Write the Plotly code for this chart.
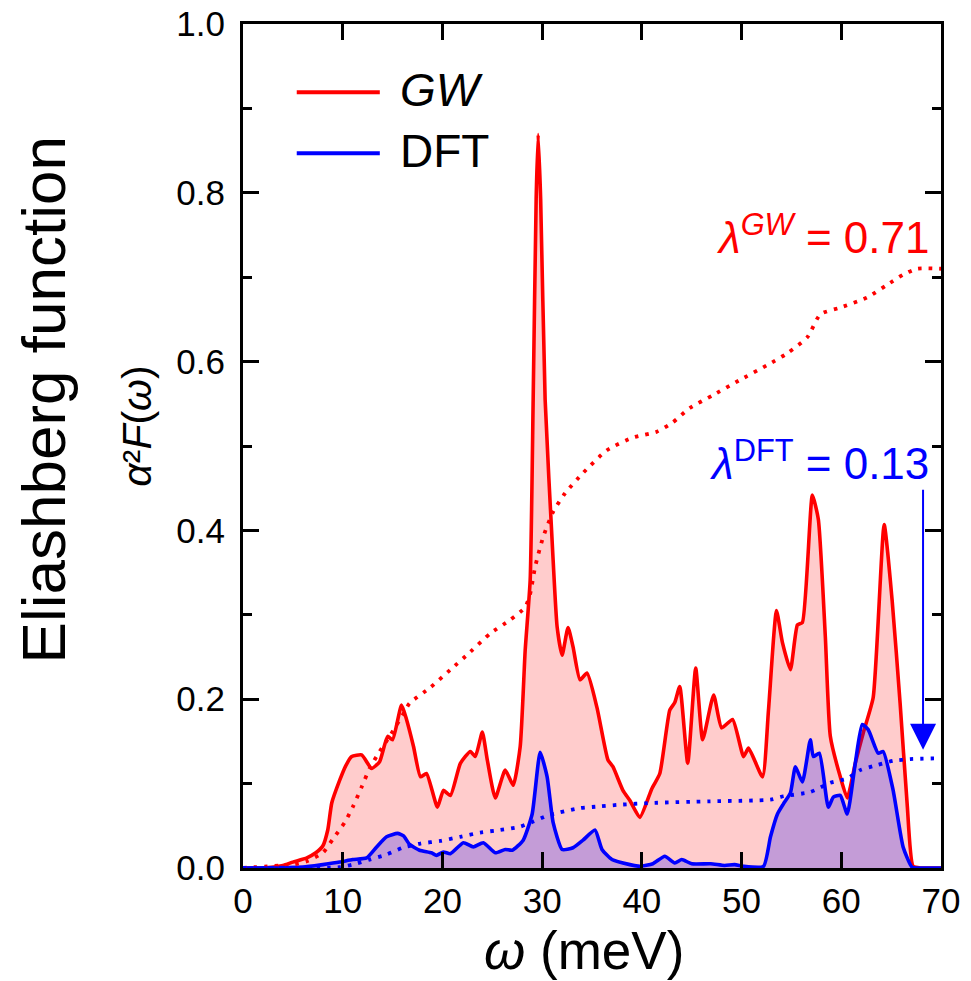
import plotly.graph_objects as go

# Eliashberg spectral function alpha^2 F(omega), GW vs DFT
gw_w = [0, 2, 4, 5, 6.4, 7.3, 8.0, 8.5, 8.9, 9.7, 10.3, 10.9, 11.9, 12.9, 13.7, 14.5, 15.0,
        15.9, 16.4, 17.1, 17.8, 18.4, 19.5, 20.1, 20.8, 21.8, 22.8, 23.3, 24.0, 24.5, 25.3,
        26.3, 27.1, 27.8, 28.3, 28.8, 29.1, 29.4, 29.6, 29.85, 30.3, 31.1, 31.5, 32.0, 32.6,
        33.1, 33.8, 34.5, 35.5, 36.6, 37.1, 38.1, 38.8, 39.8, 41.0, 41.8, 42.8, 43.3, 43.8,
        44.6, 45.4, 46.1, 47.2, 48.0, 49.1, 50.2, 50.7, 52.1, 52.7, 53.5, 54.1, 54.9, 55.6,
        56.1, 57.1, 57.7, 58.4, 58.9, 59.9, 60.6, 61.4, 62.2, 63.2, 64.3, 65.1, 65.9, 66.6,
        67.2, 68, 70]
gw_a2f = [0, 0.0, 0.003, 0.007, 0.012, 0.018, 0.026, 0.045, 0.077, 0.104, 0.121, 0.132, 0.134,
          0.118, 0.126, 0.156, 0.152, 0.193, 0.176, 0.144, 0.108, 0.112, 0.072, 0.092, 0.086,
          0.124, 0.138, 0.132, 0.161, 0.128, 0.083, 0.116, 0.098, 0.144, 0.258, 0.341, 0.555,
          0.793, 0.869, 0.793, 0.555, 0.365, 0.286, 0.252, 0.285, 0.262, 0.223, 0.231, 0.190,
          0.128, 0.120, 0.092, 0.080, 0.060, 0.094, 0.112, 0.187, 0.196, 0.215, 0.124, 0.237,
          0.152, 0.205, 0.166, 0.176, 0.132, 0.142, 0.108, 0.187, 0.305, 0.267, 0.235, 0.288,
          0.291, 0.442, 0.413, 0.274, 0.156, 0.108, 0.083, 0.124, 0.160, 0.202, 0.407, 0.317,
          0.195, 0.077, 0.002, 0, 0]

dft_w = [0, 6, 8.0, 9.7, 11, 12.4, 13.4, 14.4, 15.5, 16.1, 16.7, 17.7, 18.9, 19.4, 20.1, 20.8,
         22.1, 23.1, 24.1, 25.3, 26.3, 27.0, 28.1, 29.0, 29.8, 30.5, 31.1, 32.0, 33.1, 34.1,
         35.3, 36.0, 37.0, 38.8, 39.8, 41.1, 42.3, 43.3, 44.0, 45.0, 46.9, 48.3, 49.3, 50.2,
         52.2, 52.9, 53.6, 54.2, 54.9, 55.4, 56.1, 56.9, 57.2, 57.8, 58.7, 59.2, 59.9, 60.6,
         61.4, 62.1, 62.7, 63.7, 64.2, 65.2, 66.2, 67.1, 68, 70]
dft_a2f = [0, 0.001, 0.004, 0.007, 0.010, 0.012, 0.025, 0.037, 0.041, 0.038, 0.028, 0.021,
           0.018, 0.015, 0.019, 0.017, 0.030, 0.025, 0.030, 0.018, 0.022, 0.021, 0.033, 0.064,
           0.137, 0.108, 0.054, 0.022, 0.024, 0.033, 0.045, 0.022, 0.010, 0.004, 0.002, 0.005,
           0.014, 0.006, 0.010, 0.005, 0.005, 0.003, 0.004, 0.002, 0.002, 0.037, 0.064, 0.076,
           0.089, 0.120, 0.102, 0.152, 0.132, 0.136, 0.072, 0.084, 0.086, 0.064, 0.124, 0.170,
           0.164, 0.136, 0.138, 0.092, 0.025, 0.001, 0, 0]

# cumulative coupling constant lambda(omega)
lam_gw_w = [0, 3.7, 5, 6.4, 8.0, 9.0, 10.2, 11.0, 11.9, 12.7, 13.7, 14.7, 16.0, 16.7, 18.8,
            20.8, 22.8, 24.8, 26.8, 28.3, 28.8, 29.3, 30.1, 31.1, 32.3, 34.1, 36.5, 39.1,
            41.5, 43.1, 44.8, 47.1, 49.8, 52.6, 54.6, 56.6, 57.9, 59.9, 62.6, 64.6, 66.2,
            67.6, 70]
lam_gw = [0, 0.003, 0.004, 0.008, 0.018, 0.034, 0.054, 0.072, 0.096, 0.118, 0.138, 0.156,
          0.181, 0.195, 0.214, 0.235, 0.256, 0.278, 0.294, 0.309, 0.325, 0.357, 0.392, 0.422,
          0.444, 0.468, 0.495, 0.510, 0.517, 0.528, 0.545, 0.560, 0.578, 0.596, 0.610,
          0.629, 0.656, 0.664, 0.676, 0.691, 0.703, 0.71, 0.71]

lam_dft_w = [0, 9.7, 11, 12.7, 14.4, 16.0, 17.8, 19.8, 21.8, 23.8, 25.8, 27.8, 29.1, 30.5,
             31.8, 33.8, 35.8, 37.8, 40.8, 46.8, 52.9, 54.2, 56.9, 58.9, 60.6, 61.9, 63.6,
             65.2, 66.9, 70]
lam_dft = [0, 0.001, 0.004, 0.010, 0.016, 0.024, 0.029, 0.032, 0.037, 0.042, 0.045, 0.049,
           0.055, 0.062, 0.066, 0.071, 0.073, 0.075, 0.077, 0.079, 0.081, 0.085, 0.090,
           0.101, 0.106, 0.116, 0.122, 0.127, 0.129, 0.13]

lam_gw_final = 0.71
lam_dft_final = 0.13

RED = "#ff0000"
BLUE = "#0000ff"
FONT = "Liberation Sans, Arial, Helvetica, sans-serif"

fig = go.Figure()
fig.add_trace(go.Scatter(x=gw_w, y=gw_a2f, mode="lines", fill="tozeroy",
                         fillcolor="rgba(255,0,0,0.2)",
                         line=dict(color=RED, width=3.6, shape="spline", smoothing=0.5),
                         showlegend=False))
fig.add_trace(go.Scatter(x=dft_w, y=dft_a2f, mode="lines", fill="tozeroy",
                         fillcolor="rgba(0,0,255,0.23)",
                         line=dict(color=BLUE, width=3.6, shape="spline", smoothing=0.5),
                         showlegend=False))
fig.add_trace(go.Scatter(x=lam_gw_w, y=lam_gw, mode="lines",
                         line=dict(color=RED, width=3.8, dash="3.5px,7px", shape="spline",
                                   smoothing=0.6),
                         showlegend=False))
fig.add_trace(go.Scatter(x=lam_dft_w, y=lam_dft, mode="lines",
                         line=dict(color=BLUE, width=3.8, dash="3.5px,7px", shape="spline",
                                   smoothing=0.6),
                         showlegend=False))

axis_common = dict(showline=True, linecolor="black", linewidth=3, mirror="allticks",
                   ticks="inside", tickcolor="black", tickwidth=2.5, showgrid=False,
                   zeroline=False, automargin=False,
                   tickfont=dict(family=FONT, size=35, color="black"))

fig.update_xaxes(range=[0, 70], dtick=10, tick0=0, ticklen=16, **axis_common)
fig.update_yaxes(range=[0, 1.0], dtick=0.2, tick0=0, ticklen=16, tickformat=".1f",
                 ticklabelstandoff=8,
                 minor=dict(dtick=0.1, ticks="inside", ticklen=9, tickcolor="black",
                            tickwidth=2.5),
                 **axis_common)

# legend drawn by hand: long line samples beside the labels
legend_items = [("<i>GW</i>", RED, 0.919), ("DFT", BLUE, 0.847)]
for label, color, yy in legend_items:
    fig.add_shape(type="line", xref="paper", yref="paper", x0=0.077, x1=0.196, y0=yy, y1=yy,
                  line=dict(color=color, width=4))
    fig.add_annotation(xref="paper", yref="paper", x=0.222, y=yy + 0.003, text=label,
                       showarrow=False, xanchor="left", yanchor="middle",
                       font=dict(family=FONT, size=46, color="black"))

annotations = [
    dict(text="Eliashberg function", x=-0.2865, y=0.554, textangle=-90,
         font=dict(family=FONT, size=62, color="black")),
    dict(text="<i>α</i>²<i>F</i>(<i>ω</i>)", x=-0.152, y=0.524, textangle=-90,
         font=dict(family=FONT, size=41, color="black")),
    dict(text="<i>ω</i> (meV)", x=0.488, y=-0.098,
         font=dict(family=FONT, size=53, color="black")),
]
for a in annotations:
    fig.add_annotation(xref="paper", yref="paper", showarrow=False,
                       xanchor="center", yanchor="middle", **a)

fig.add_annotation(xref="x", yref="y", x=69.0, y=0.751, xanchor="right", yanchor="middle",
                   showarrow=False,
                   text=f"<i>λ</i><sup><i>GW</i></sup> = {lam_gw_final:.2f}",
                   font=dict(family=FONT, size=44, color=RED))
fig.add_annotation(xref="x", yref="y", x=69.0, y=0.483, xanchor="right", yanchor="middle",
                   showarrow=False,
                   text=f"<i>λ</i><sup>DFT</sup> = {lam_dft_final:.2f}",
                   font=dict(family=FONT, size=44, color=BLUE))

# arrow pointing to the DFT plateau
fig.add_annotation(xref="x", yref="y", axref="x", ayref="y", x=68.2, y=lam_dft_final + 0.01,
                   ax=68.2, ay=0.45, text="", showarrow=True, arrowhead=2, arrowsize=2.6,
                   arrowwidth=2, arrowcolor=BLUE, standoff=0)

fig.update_layout(width=971, height=981, margin=dict(l=243, r=30, t=24, b=113),
                  plot_bgcolor="white", paper_bgcolor="white",
                  font=dict(family=FONT, color="black"))

fig.write_html("out.html")
